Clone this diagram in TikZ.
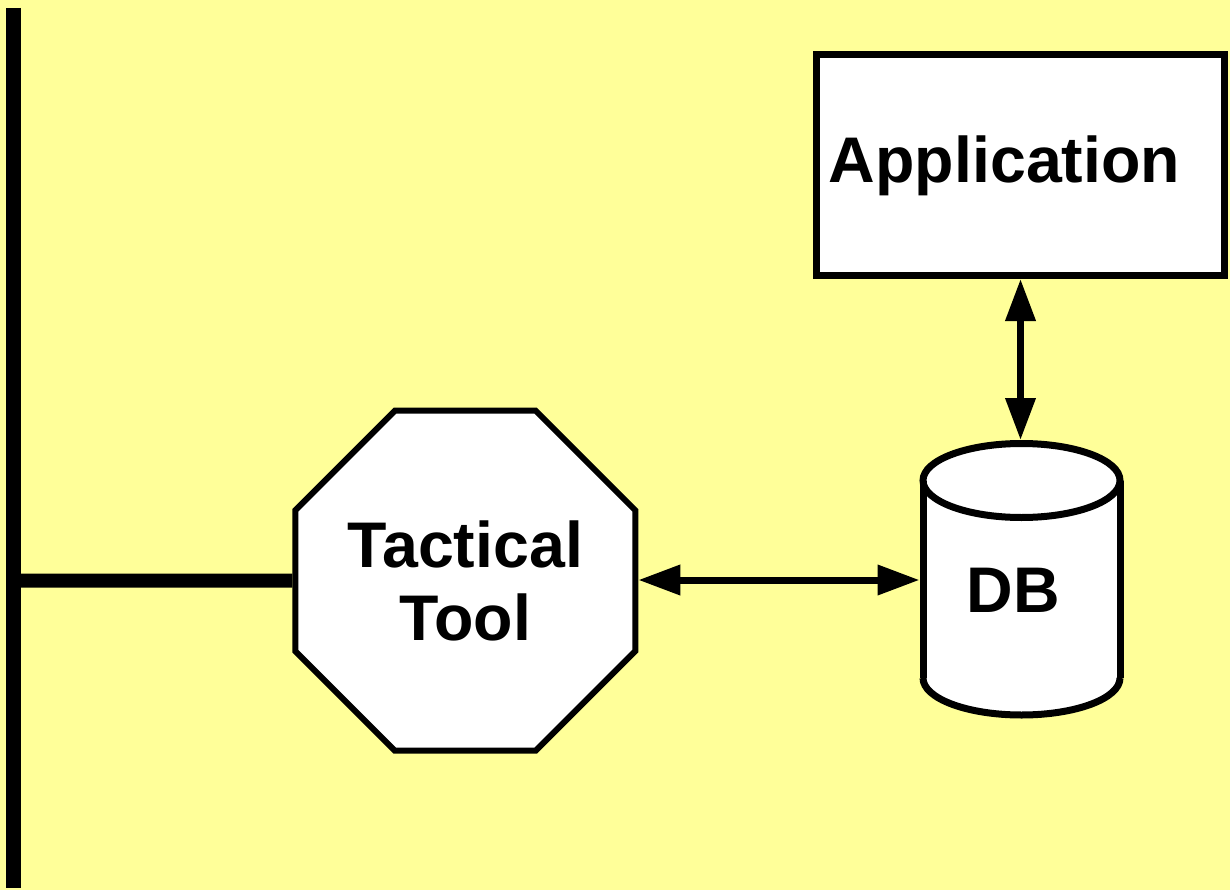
\documentclass[tikz,border=0pt]{standalone}
\usepackage{fontspec}
\setmainfont{Liberation Sans}
\usetikzlibrary{shapes.geometric,arrows.meta}
\definecolor{bgyellow}{RGB}{255,255,153}
\tikzset{
  bigfont/.style={font=\bfseries\fontsize{64.5}{73}\selectfont},
  appbox/.style={draw=black,fill=white,line width=7pt,minimum width=408pt,minimum height=220.5pt,inner sep=0pt},
  octo/.style={draw=black,fill=white,line width=6pt,regular polygon,regular polygon sides=8,minimum size=368pt,inner sep=0pt,align=center,bigfont},
  cylline/.style={draw=black,line width=7pt},
  biarrow/.style={line width=7pt,{Triangle[length=42pt,width=29pt]}-{Triangle[length=42pt,width=29pt]}},
  busline/.style={line width=15pt},
  tapline/.style={line width=14pt}
}
\begin{document}
\begin{tikzpicture}[x=1pt,y=-1pt]
\useasboundingbox (0,0) rectangle (1230,890);
\fill[bgyellow] (0,0) rectangle (1230,890);

% bus bar
\coordinate (bartop) at (13.5,8);
\coordinate (barbot) at (13.5,888);
\draw[busline] (bartop) -- (barbot);

% Tactical Tool octagon
\node[octo] (tt) at (465.3,580.7) {Tactical\\Tool};
\coordinate (barjoin) at (21,580.7);
\draw[tapline] (barjoin) -- (tt.west);

% Application box
\node[appbox] (app) at (1020.5,165.25) {};
\node[bigfont,inner sep=0pt] (apptext) at (1004.5,165.5) {Application};

% DB cylinder
\fill[white] (923,480.5) -- (923,678) arc[start angle=180,end angle=0,x radius=98.5,y radius=37] -- (1120,480.5) arc[start angle=0,end angle=-180,x radius=98.5,y radius=37] -- cycle;
\draw[cylline] (1021.5,480.5) ellipse [x radius=98.5,y radius=37];
\draw[cylline] (923,480.5) -- (923,678);
\draw[cylline] (1120,480.5) -- (1120,678);
\draw[cylline] (923,678) arc[start angle=180,end angle=0,x radius=98.5,y radius=37];
\node[bigfont,inner sep=0pt] (db) at (1013,590) {DB};
\coordinate (dbtop) at (1020.5,440);
\coordinate (dbleft) at (919.5,580);

% connectors
\draw[biarrow] (app.south) -- (dbtop);
\draw[biarrow] (tt.east |- dbleft) -- (dbleft);
\end{tikzpicture}
\end{document}
